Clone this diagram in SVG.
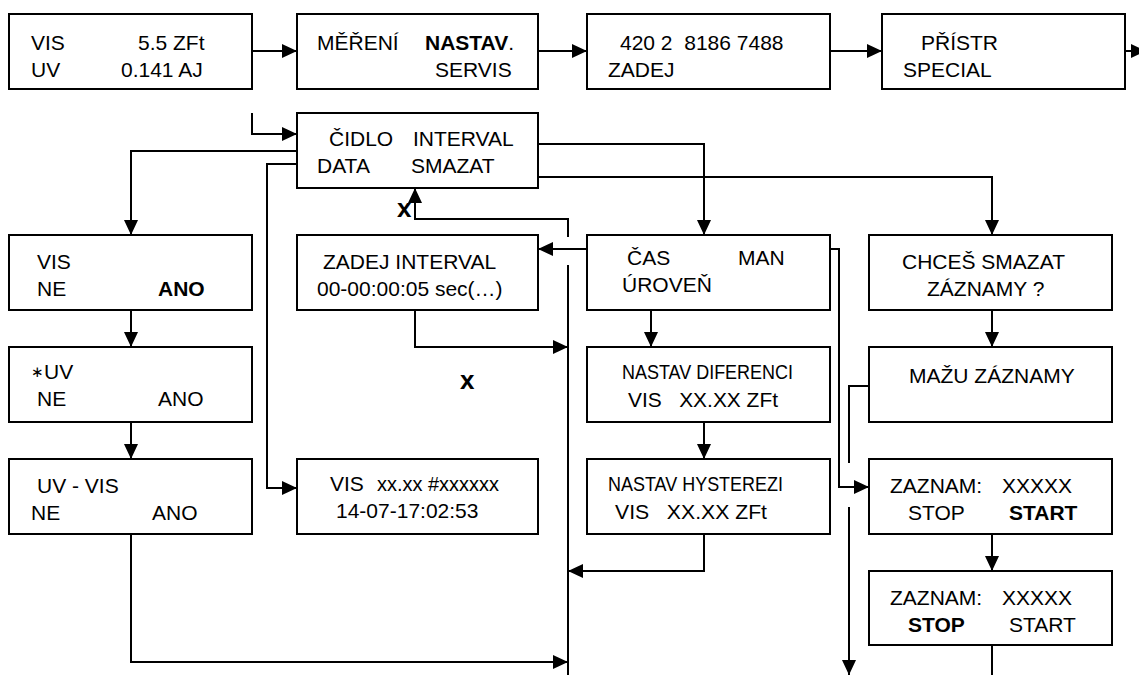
<svg xmlns="http://www.w3.org/2000/svg" width="1139" height="675" viewBox="0 0 1139 675">
<defs>
<marker id="ah" markerUnits="userSpaceOnUse" markerWidth="16" markerHeight="15" refX="15" refY="7" orient="auto"><path d="M0,0 L15,7 L0,14 z" fill="#000"/></marker>
<style>
.b{fill:#fff;stroke:#000;stroke-width:2}
.t{font-family:"Liberation Sans",Arial,sans-serif;font-size:21px;fill:#000}
.bd{font-weight:bold}
.c{fill:none;stroke:#000;stroke-width:2}
.a{marker-end:url(#ah)}
.x{font-family:"Liberation Sans",Arial,sans-serif;font-size:26px;font-weight:bold;fill:#000}
</style>
</defs>
<rect width="1139" height="675" fill="#fff"/>
<g id="connectors">
<path class="c a" d="M252,51 H297"/>
<path class="c a" d="M538,51 H587"/>
<path class="c a" d="M830,51 H882"/>
<path class="c a" d="M1125,51 H1146"/>
<path class="c a" d="M252,113 V134 H297"/>
<path class="c a" d="M297,151 H131 V235"/>
<path class="c a" d="M297,164 H267 V488 H297"/>
<path class="c a" d="M538,144 H704 V235"/>
<path class="c a" d="M538,177 H992 V235"/>
<path class="c a" d="M568,237 V219 H415 V188"/>
<path class="c" d="M568,265 V675"/>
<path class="c a" d="M587,249 H538"/>
<path class="c a" d="M415,310 V347 H568"/>
<path class="c a" d="M131,310 V347"/>
<path class="c a" d="M131,422 V459"/>
<path class="c a" d="M131,534 V662 H568"/>
<path class="c a" d="M651,310 V347"/>
<path class="c a" d="M704,422 V459"/>
<path class="c a" d="M704,534 V571 H568"/>
<path class="c a" d="M830,249 H839 V487 H869"/>
<path class="c" d="M869,386 H849 V463"/>
<path class="c a" d="M849,507 V675"/>
<path class="c a" d="M992,310 V347"/>
<path class="c a" d="M992,534 V571"/>
<path class="c" d="M992,645 V675"/>
</g>
<g id="n-main"><rect class="b" x="9" y="14" width="243" height="75"/>
<text class="t" x="31" y="50">VIS</text><text class="t" x="138" y="50">5.5 ZFt</text>
<text class="t" x="31" y="77">UV</text><text class="t" x="121" y="77">0.141 AJ</text></g>
<g id="n-mereni"><rect class="b" x="297" y="14" width="241" height="75"/>
<text class="t" x="317" y="50">MĚŘENÍ</text><text class="t" x="425" y="50"><tspan class="bd">NASTAV</tspan>.</text>
<text class="t" x="435" y="77">SERVIS</text></g>
<g id="n-zadej"><rect class="b" x="587" y="14" width="243" height="75"/>
<text class="t" x="620" y="50" xml:space="preserve">420 2  8186 7488</text>
<text class="t" x="608" y="77">ZADEJ</text></g>
<g id="n-pristr"><rect class="b" x="882" y="14" width="243" height="75"/>
<text class="t" x="921" y="50">PŘÍSTR</text>
<text class="t" x="903" y="77">SPECIAL</text></g>
<g id="n-cidlo"><rect class="b" x="297" y="113" width="241" height="75"/>
<text class="t" x="329" y="146">ČIDLO</text><text class="t" x="413" y="146">INTERVAL</text>
<text class="t" x="317" y="173">DATA</text><text class="t" x="411" y="173">SMAZAT</text></g>
<g id="n-vis"><rect class="b" x="9" y="235" width="243" height="75"/>
<text class="t" x="37" y="269">VIS</text>
<text class="t" x="37" y="296">NE</text><text class="t bd" x="158" y="296">ANO</text></g>
<g id="n-uv"><rect class="b" x="9" y="347" width="243" height="75"/>
<text class="t" x="31" y="379"><tspan font-size="15" dy="-2">∗</tspan><tspan dy="2">UV</tspan></text>
<text class="t" x="37" y="406">NE</text><text class="t" x="158" y="406">ANO</text></g>
<g id="n-uvvis"><rect class="b" x="9" y="459" width="243" height="75"/>
<text class="t" x="37" y="493">UV - VIS</text>
<text class="t" x="31" y="520">NE</text><text class="t" x="152" y="520">ANO</text></g>
<g id="n-interval"><rect class="b" x="297" y="235" width="241" height="75"/>
<text class="t" x="323" y="269">ZADEJ INTERVAL</text>
<text class="t" x="317" y="296">00-00:00:05 sec(…)</text></g>
<g id="n-visdata"><rect class="b" x="297" y="459" width="241" height="75"/>
<text class="t" x="330" y="491">VIS</text><text class="t" x="377" y="491" font-size="18" textLength="122" lengthAdjust="spacingAndGlyphs">xx.xx #xxxxxx</text>
<text class="t" x="336" y="518">14-07-17:02:53</text></g>
<g id="n-cas"><rect class="b" x="587" y="235" width="243" height="75"/>
<text class="t" x="627" y="265">ČAS</text><text class="t" x="738" y="265">MAN</text>
<text class="t" x="622" y="292">ÚROVEŇ</text></g>
<g id="n-dif"><rect class="b" x="587" y="347" width="243" height="75"/>
<text class="t" x="622" y="379" textLength="171" lengthAdjust="spacingAndGlyphs">NASTAV DIFERENCI</text>
<text class="t" x="628" y="407" textLength="150" lengthAdjust="spacingAndGlyphs" xml:space="preserve">VIS   XX.XX ZFt</text></g>
<g id="n-hyst"><rect class="b" x="587" y="459" width="243" height="75"/>
<text class="t" x="608" y="491" textLength="175" lengthAdjust="spacingAndGlyphs">NASTAV HYSTEREZI</text>
<text class="t" x="615" y="519" textLength="152" lengthAdjust="spacingAndGlyphs" xml:space="preserve">VIS   XX.XX ZFt</text></g>
<g id="n-chces"><rect class="b" x="869" y="235" width="243" height="75"/>
<text class="t" x="902" y="269">CHCEŠ SMAZAT</text>
<text class="t" x="927" y="296">ZÁZNAMY ?</text></g>
<g id="n-mazu"><rect class="b" x="869" y="347" width="243" height="75"/>
<text class="t" x="909" y="383">MAŽU ZÁZNAMY</text></g>
<g id="n-zaznam1"><rect class="b" x="869" y="459" width="243" height="75"/>
<text class="t" x="890" y="493">ZAZNAM:</text><text class="t" x="1002" y="493">XXXXX</text>
<text class="t" x="908" y="520">STOP</text><text class="t bd" x="1009" y="520">START</text></g>
<g id="n-zaznam2"><rect class="b" x="869" y="571" width="243" height="74"/>
<text class="t" x="890" y="605">ZAZNAM:</text><text class="t" x="1002" y="605">XXXXX</text>
<text class="t bd" x="908" y="632">STOP</text><text class="t" x="1009" y="632">START</text></g>
<g id="labels">
<text class="x" x="397" y="217">x</text>
<text class="x" x="460" y="389">x</text>
</g>
</svg>
